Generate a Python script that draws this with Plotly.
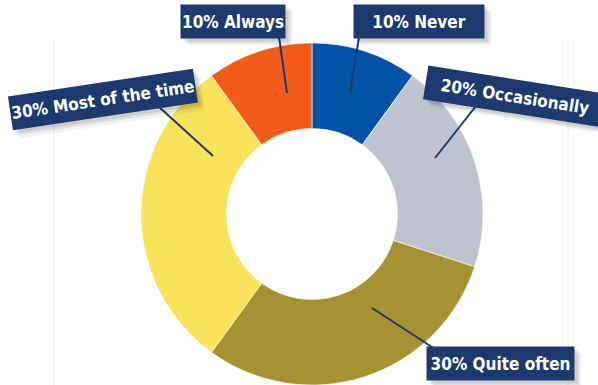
import plotly.graph_objects as go

categories = ["Never", "Occasionally", "Quite often", "Most of the time", "Always"]
values = [10, 20, 30, 30, 10]
colors = ["#0352a6", "#bfc3cf", "#a69232", "#f8e35a", "#f25b19"]
label_texts = ["10% Never", "20% Occasionally", "30% Quite often", "30% Most of the time", "10% Always"]

W, H = 598, 385

def px(x):
    return x / W

def py(y):
    return 1 - y / H

fig = go.Figure()
fig.add_trace(go.Pie(
    labels=categories, values=values, hole=0.5, sort=False, direction="clockwise",
    rotation=0, textinfo="none", hoverinfo="label+percent",
    marker=dict(colors=colors, line=dict(color="rgba(255,255,255,0.6)", width=1)),
    domain=dict(x=[px(141), px(483)], y=[0, py(43)]),
    showlegend=False,
))

# label layout: (box center x, box center y, angle, box width, leader start, leader end)
layout_pos = {
    "Never": (419, 21, 0, 128, (359, 37), (350, 93)),
    "Occasionally": (515, 97, 9, 178, (476, 106), (435, 158)),
    "Quite often": (500, 363, 0, 145, (435, 349), (372, 308)),
    "Most of the time": (103, 100, -8.5, 184, (158, 106), (213, 156)),
    "Always": (233, 21, 0, 102, (279, 37), (287, 93)),
}

navy = "#1c3a6d"
fnt = dict(family="DejaVu Sans Condensed, Roboto", size=17, weight="bold")
anns = []
shapes = [
    dict(type="line", xref="paper", yref="paper", x0=px(54), x1=px(54), y0=py(40), y1=0,
         line=dict(color="#ececec", width=1), layer="below"),
    dict(type="line", xref="paper", yref="paper", x0=px(568), x1=px(568), y0=py(40), y1=0,
         line=dict(color="#ececec", width=1), layer="below"),
]
for cat in categories:
    cx, cy, ang, w, p0, p1 = layout_pos[cat]
    shapes.append(dict(type="line", xref="paper", yref="paper",
                       x0=px(p0[0]), y0=py(p0[1]), x1=px(p1[0]), y1=py(p1[1]),
                       line=dict(color=navy, width=2), layer="above"))
    for dx, dy, a in [(7, 7, 0.05), (5, 5, 0.07), (3, 3, 0.08)]:
        anns.append(dict(
            x=px(cx + dx), y=py(cy + dy), xref="paper", yref="paper", showarrow=False,
            xanchor="center", yanchor="middle",
            text="&nbsp;", textangle=ang, width=w, height=31, borderpad=1,
            bgcolor=f"rgba(0,0,0,{a})", font=dict(fnt, color="rgba(0,0,0,0)"),
        ))
for cat, txt in zip(categories, label_texts):
    cx, cy, ang, w, p0, p1 = layout_pos[cat]
    anns.append(dict(
        x=px(cx), y=py(cy), xref="paper", yref="paper", showarrow=False,
        xanchor="center", yanchor="middle",
        text=txt, textangle=ang, width=w, height=31, borderpad=1,
        bgcolor=navy, font=dict(fnt, color="white"),
    ))

fig.update_layout(
    width=W, height=H, margin=dict(l=0, r=0, t=0, b=0),
    paper_bgcolor="white", plot_bgcolor="white",
    annotations=anns, shapes=shapes,
)
fig.write_html("out.html")
